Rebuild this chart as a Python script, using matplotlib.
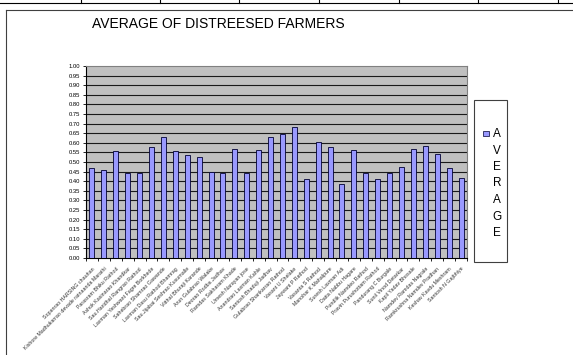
import numpy as np
import matplotlib
matplotlib.use("Agg")
import matplotlib.pyplot as plt
from matplotlib.patches import Rectangle
from matplotlib.lines import Line2D

plt.rcParams['font.family'] = ['Liberation Sans', 'DejaVu Sans']

title = "AVERAGE OF DISTREESED FARMERS"
series_name = "AVERAGE"
farmers = [
    "Sopanrao HARSING chauhan",
    "Kishore Madhukarrao devade ratnaanda Marathi",
    "Parasram Bhiku Rathod",
    "Ashok Kasinarao Khandkar",
    "Sau.Haridhal Rangrao Rathod",
    "Laxman Yeshwant Fagre Borkhede",
    "Sahebrao Shamrao Gawande",
    "Laxman Dasu Rathod Bhamrag",
    "Sau.Jijabai Seshrao Kusumalle",
    "Vitthal Bhuraji Karande",
    "Arun Gulabrao Walake",
    "Deorao Rodba Jadhav",
    "Ramdas Sakharam Khade",
    "Umesh Narayan jose",
    "Anandrao Laxman Kahle",
    "Santosh Bhaduji Jadhav",
    "Gulabrao Shankarrao Rathod",
    "Vasant U Shelake",
    "Jaywant P Rathod",
    "Vasanta S Rathod",
    "Manohar K Mahalpure",
    "Suresh Laxman Adi",
    "Datta Nabbu Hagare",
    "Pundlik Namdeo Rathod",
    "Pravin Purushottam Rathod",
    "Pandurang C Burgale",
    "Sunil Vinod Detarkar",
    "Kapil Yadav Bhosale",
    "Namdev Ramdas Nagrale",
    "Ramkrushna Namdev Pradhan",
    "Keshav Kavdu Meshram",
    "Santosh N Gajbhiye",
]
average = [0.470, 0.457, 0.557, 0.443, 0.443, 0.578, 0.628, 0.557,
           0.535, 0.528, 0.450, 0.443, 0.569, 0.443, 0.564, 0.628,
           0.644, 0.681, 0.413, 0.606, 0.578, 0.385, 0.564, 0.443,
           0.413, 0.443, 0.476, 0.569, 0.585, 0.540, 0.470, 0.418]
y_ticks = np.arange(0, 1.0001, 0.05)

W, H = 573, 355
fig = plt.figure(figsize=(W / 100, H / 100), dpi=100)


def fx(px):
    return px / W


def fy(py):
    return 1 - py / H


# sheet cell borders above the chart
fig.add_artist(Line2D([0, 1], [fy(3), fy(3)], color="black", lw=0.8))
for cx in [81, 160, 239, 319, 399, 478, 558]:
    fig.add_artist(Line2D([fx(cx), fx(cx)], [fy(0), fy(3)], color="black", lw=0.8))

# chart frame
fig.add_artist(Line2D([fx(6), fx(6)], [fy(10), 0], color="#404040", lw=0.8))
fig.add_artist(Line2D([fx(6), 1], [fy(10), fy(10)], color="#404040", lw=0.8))

ax = fig.add_axes([fx(86), fy(258), fx(467) - fx(86), fy(66) - fy(258)])
ax.set_facecolor("#C0C0C0")

x = np.arange(len(farmers))
ax.bar(x, average, width=0.42, color="#9999FF", edgecolor="#000033",
       linewidth=0.6, zorder=3)

ax.set_xlim(-0.5, len(farmers) - 0.5)
ax.set_ylim(0, 1.0)
ax.set_yticks(y_ticks)
ax.set_yticklabels([f"{v:.2f}" for v in y_ticks], fontsize=4.2)
for v in y_ticks[1:-1]:
    ax.axhline(v, color="#1a1a1a", lw=0.8, zorder=1)

ax.set_xticks(x)
ax.set_xticklabels(farmers, rotation=45, ha="right", rotation_mode="anchor",
                   fontsize=3.8, color="#333333")
ax.set_xticks(np.arange(len(farmers) + 1) - 0.5, minor=True)
ax.tick_params(axis="x", which="major", length=0, pad=6)
ax.tick_params(axis="x", which="minor", length=2.5, width=0.6)
ax.tick_params(axis="y", length=2.5, width=0.6, pad=1.5)

for side in ["top", "right"]:
    ax.spines[side].set_color("#808080")
    ax.spines[side].set_linewidth(0.8)
for side in ["left", "bottom"]:
    ax.spines[side].set_color("black")
    ax.spines[side].set_linewidth(0.8)

fig.text(fx(218), fy(24.5), title, ha="center", va="center", fontsize=10)

# legend box with the series name written top to bottom
fig.add_artist(Rectangle((fx(474), fy(262)), fx(33), fy(100) - fy(262),
                         transform=fig.transFigure, facecolor="white",
                         edgecolor="#404040", lw=0.8))
fig.add_artist(Rectangle((fx(483), fy(136)), fx(6), fy(131) - fy(136),
                         transform=fig.transFigure, facecolor="#9999FF",
                         edgecolor="#000033", lw=0.5))
for i, ch in enumerate(series_name):
    fig.text(fx(497), fy(134 + i * 16.5), ch, ha="center", va="center",
             fontsize=8.5)

fig.savefig("out.png", dpi=100)
